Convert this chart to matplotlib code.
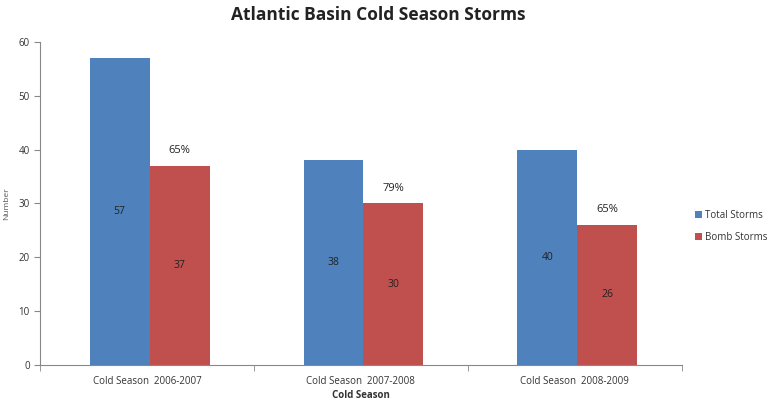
import matplotlib
matplotlib.use("Agg")
import matplotlib.pyplot as plt
import numpy as np

categories = ["Cold Season  2006-2007", "Cold Season  2007-2008", "Cold Season  2008-2009"]
total_storms = [57, 38, 40]
bomb_storms = [37, 30, 26]
percent_labels = ["65%", "79%", "65%"]
series_names = ["Total Storms", "Bomb Storms"]
y_ticks = [0, 10, 20, 30, 40, 50, 60]

plt.rcParams['font.family'] = ['Open Sans', 'DejaVu Sans']

fig = plt.figure(figsize=(7.72, 4.04), dpi=100)
ax = fig.add_axes([0.052, 0.097, 0.831, 0.799])

x = np.arange(len(categories))
w = 0.28
b1 = ax.bar(x - w/2 + 0.012, total_storms, w, color="#4F81BD", label=series_names[0])
b2 = ax.bar(x + w/2 + 0.012, bomb_storms, w, color="#C0504D", label=series_names[1])

for i in range(len(categories)):
    ax.text(x[i] - w/2 + 0.012, total_storms[i] / 2, str(total_storms[i]), ha="center", va="center", fontsize=7.5, color="#222222")
    ax.text(x[i] + w/2 + 0.012, bomb_storms[i] / 2, str(bomb_storms[i]), ha="center", va="center", fontsize=7.5, color="#222222")
    ax.text(x[i] + w/2 + 0.012, bomb_storms[i] + 1.8, percent_labels[i], ha="center", va="bottom", fontsize=8, color="#222222")

ax.set_xlim(-0.5, len(categories) - 0.5)
ax.set_ylim(0, 60)
ax.set_yticks(y_ticks)
ax.set_xticks(x)
ax.set_xticklabels(categories, fontsize=7, color="#333333")
ax.set_xticks([-0.5, 0.5, 1.5, 2.5], minor=True)
ax.tick_params(axis="x", which="major", length=0, pad=8)
ax.tick_params(axis="x", which="minor", length=4, color="#888888")
ax.tick_params(axis="y", labelsize=7, length=4, color="#888888", labelcolor="#333333")
for s in ["top", "right"]:
    ax.spines[s].set_visible(False)
for s in ["left", "bottom"]:
    ax.spines[s].set_color("#888888")

ax.set_xlabel("Cold Season", fontsize=7, fontweight="bold", color="#333333", labelpad=2)
ax.set_ylabel("Number", fontsize=6, color="#555555", labelpad=6)
fig.suptitle("Atlantic Basin Cold Season Storms", fontsize=12.5, fontweight="bold", color="#222222", x=0.49, y=0.985)

leg = fig.legend(handles=[b1, b2], loc="upper left", bbox_to_anchor=(0.895, 0.49), frameon=False,
                 fontsize=7, handlelength=0.7, handleheight=0.7, handletextpad=0.3, labelspacing=1.1, borderaxespad=0)
for t in leg.get_texts():
    t.set_color("#333333")

fig.savefig("out.png", dpi=100)
